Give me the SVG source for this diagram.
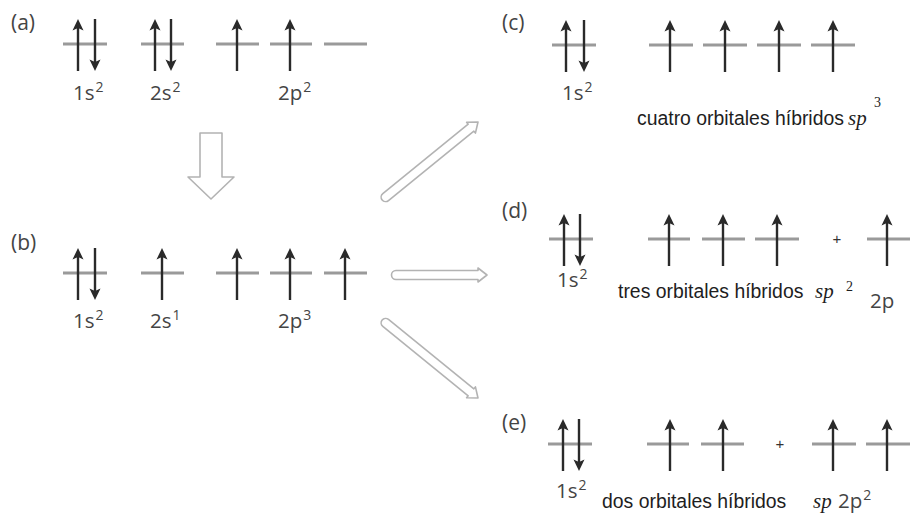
<svg xmlns="http://www.w3.org/2000/svg" width="910" height="527" viewBox="0 0 910 527">
<style>
.orb{stroke:#9a9a9a;stroke-width:3;fill:none}
.lbl{font-family:"Open Sans","Noto Sans",sans-serif;font-size:21px;fill:#444}
.cfg{font-family:"Open Sans","Noto Sans",sans-serif;font-size:20.5px;fill:#444}
.sup{font-size:14px}
.txt{font-family:"Liberation Sans",Arial,sans-serif;font-size:19.4px;fill:#1e1e1e}
.it{font-family:"Liberation Serif","Times New Roman",serif;font-style:italic;font-size:21px;fill:#1e1e1e}
.isup{font-family:"Liberation Serif","Times New Roman",serif;font-size:14px;fill:#1e1e1e}
.plus{font-family:"Liberation Sans",Arial,sans-serif;font-size:15px;fill:#333}
.hol{fill:#fff;stroke:#b3b3b3;stroke-width:1.6;stroke-linejoin:round}
</style>
<defs>
<g id="su"><path d="M0,27 V-17" stroke="#2a2a2a" stroke-width="2.4"/><path d="M0,-25 L-5.5,-13.5 L0,-16 L5.5,-13.5 Z" fill="#2a2a2a"/></g>
<g id="sd"><path d="M0,-25 V19" stroke="#2a2a2a" stroke-width="2.4"/><path d="M0,27 L-5.5,15.5 L0,18 L5.5,15.5 Z" fill="#2a2a2a"/></g>
</defs>

<g id="panel-a">
<text class="lbl" x="11" y="30">(a)</text>
<path class="orb" d="M63,44H107M141,44H184M216,44H259M270,44H312M324,44H367"/>
<use href="#su" x="78" y="44"/><use href="#sd" x="95" y="44"/>
<use href="#su" x="155" y="44"/><use href="#sd" x="171" y="44"/>
<use href="#su" x="237" y="44"/><use href="#su" x="290" y="44"/>
<text class="cfg" x="73" y="100">1s<tspan class="sup" dx="1" dy="-8">2</tspan></text>
<text class="cfg" x="150" y="100">2s<tspan class="sup" dx="1" dy="-8">2</tspan></text>
<text class="cfg" x="278" y="100">2p<tspan class="sup" dx="1" dy="-8">2</tspan></text>
</g>

<g id="panel-b">
<text class="lbl" x="11" y="250">(b)</text>
<path class="orb" d="M63,273H107M141,273H184M216,273H259M270,273H312M324,273H367"/>
<use href="#su" x="78" y="273"/><use href="#sd" x="95" y="273"/>
<use href="#su" x="162" y="273"/>
<use href="#su" x="237" y="273"/><use href="#su" x="290" y="273"/><use href="#su" x="345" y="273"/>
<text class="cfg" x="73" y="328">1s<tspan class="sup" dx="1" dy="-8">2</tspan></text>
<text class="cfg" x="150" y="328">2s<tspan class="sup" dx="1" dy="-8">1</tspan></text>
<text class="cfg" x="278" y="328">2p<tspan class="sup" dx="1" dy="-8">3</tspan></text>
</g>

<g id="panel-c">
<text class="lbl" x="502" y="30">(c)</text>
<path class="orb" d="M552,45H596M649,45H693M703,45H747M757,45H801M811,45H855"/>
<use href="#su" x="566" y="45"/><use href="#sd" x="584" y="45"/>
<use href="#su" x="670" y="45"/><use href="#su" x="725" y="45"/><use href="#su" x="779" y="45"/><use href="#su" x="833" y="45"/>
<text class="cfg" x="562" y="100">1s<tspan class="sup" dx="1" dy="-8">2</tspan></text>
<text class="txt" x="637" y="125">cuatro orbitales híbridos</text>
<text class="it" x="848" y="125">sp</text>
<text class="isup" x="874" y="107">3</text>
</g>

<g id="panel-d">
<text class="lbl" x="502" y="218">(d)</text>
<path class="orb" d="M549,239H593M648,239H690M702,239H745M755,239H799M867,239H910"/>
<use href="#su" x="564" y="239"/><use href="#sd" x="580" y="239"/>
<use href="#su" x="669" y="239"/><use href="#su" x="723" y="239"/><use href="#su" x="777" y="239"/>
<text class="plus" x="837" y="244" text-anchor="middle">+</text>
<use href="#su" x="887" y="239"/>
<text class="cfg" x="557" y="287">1s<tspan class="sup" dx="1" dy="-8">2</tspan></text>
<text class="txt" x="618" y="298">tres orbitales híbridos</text>
<text class="it" x="815" y="298">sp</text>
<text class="isup" x="846" y="291">2</text>
<text class="cfg" x="870" y="308">2p</text>
</g>

<g id="panel-e">
<text class="lbl" x="502" y="430">(e)</text>
<path class="orb" d="M548,444H592M647,444H689M701,444H744M812,444H856M866,444H910"/>
<use href="#su" x="563" y="444"/><use href="#sd" x="579" y="444"/>
<use href="#su" x="670" y="444"/><use href="#su" x="723" y="444"/>
<text class="plus" x="780" y="449" text-anchor="middle">+</text>
<use href="#su" x="833" y="444"/><use href="#su" x="887" y="444"/>
<text class="cfg" x="556" y="498">1s<tspan class="sup" dx="1" dy="-8">2</tspan></text>
<text class="txt" x="602" y="508">dos orbitales híbridos</text>
<text class="it" x="813" y="508">sp</text>
<text class="cfg" x="838" y="508">2p<tspan class="sup" dx="1" dy="-8">2</tspan></text>
</g>

<g id="connectors">
<path class="hol" d="M200,133H222V177H234L211,199L188,177H200Z"/>
<g transform="translate(478,122) rotate(-39.1)"><path class="hol" d="M0,0 L-9,-7 V-4.5 H-119 A4.5,4.5 0 0 0 -119,4.5 H-9 V7 Z"/></g>
<g transform="translate(487,275)"><path class="hol" d="M0,0 L-9,-7 V-4.5 H-91 A4.5,4.5 0 0 0 -91,4.5 H-9 V7 Z"/></g>
<g transform="translate(478,398) rotate(39.1)"><path class="hol" d="M0,0 L-9,-7 V-4.5 H-119 A4.5,4.5 0 0 0 -119,4.5 H-9 V7 Z"/></g>
</g>
</svg>
